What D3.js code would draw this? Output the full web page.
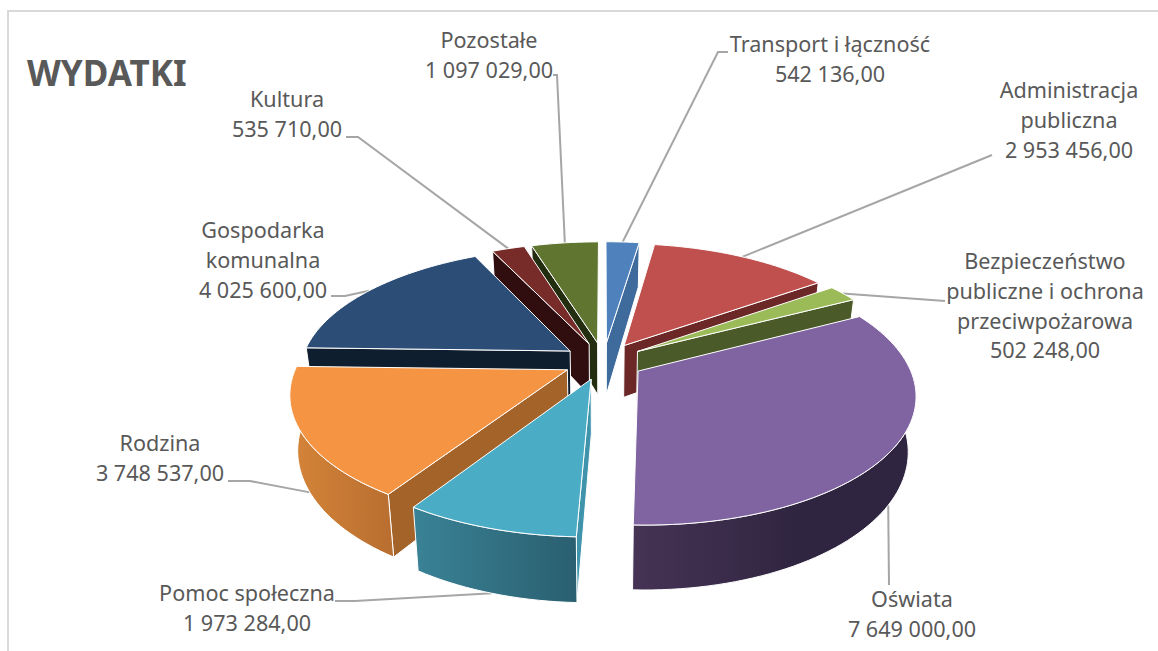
<!DOCTYPE html>
<html lang="pl">
<head>
<meta charset="UTF-8">
<title>Wydatki</title>
<script src="https://d3js.org/d3.v7.min.js"></script>
<style>
    body { margin: 0; background: #fff; }
    text { font-family: "Noto Sans", sans-serif; fill: #595959; }
</style>
</head>
<body>
<div id="chart"></div>
<script>
const categories = ["Transport i łączność", "Administracja publiczna", "Bezpieczeństwo publiczne i ochrona przeciwpożarowa", "Oświata", "Pomoc społeczna", "Rodzina", "Gospodarka komunalna", "Kultura", "Pozostałe"];
const values = [542136, 2953456, 502248, 7649000, 1973284, 3748537, 4025600, 535710, 1097029];
const valueLabels = ["542 136,00", "2 953 456,00", "502 248,00", "7 649 000,00", "1 973 284,00", "3 748 537,00", "4 025 600,00", "535 710,00", "1 097 029,00"];

// podzial etykiet na linie
const labelLines = [["Transport i łączność"], ["Administracja", "publiczna"], ["Bezpieczeństwo", "publiczne i ochrona", "przeciwpożarowa"], ["Oświata"], ["Pomoc społeczna"], ["Rodzina"], ["Gospodarka", "komunalna"], ["Kultura"], ["Pozostałe"]];

// kolory: gora, sciana zewnetrzna (jasna, ciemna), sciana boczna
const topColors = ["#4f81bd", "#c0504d", "#9bbb59", "#8064a2", "#4bacc6", "#f59544", "#2c4d75", "#772c2a", "#5f7530"];
const rimLight = ["#3f6a9c", "#6b2826", "#4a5a29", "#463355", "#3a8296", "#d58539", "#0f1e2e", "#300e10", "#232d10"];
const rimDark = ["#3f6a9c", "#6b2826", "#4a5a29", "#2f2540", "#2a5f70", "#b86e30", "#0f1e2e", "#300e10", "#232d10"];
const sideColors = ["#3f6a9c", "#6b2826", "#4a5a29", "#3b2d4c", "#3f94ac", "#a46429", "#0f1e2e", "#300e10", "#232d10"];

// polozenie etykiet: srodek tekstu, y pierwszej linii, lamanie linii wiodacej
const labelPos = [
    { x: 830, y: 52, elbow: [718, 52], end: [728, 52], rim: 0 },
    { x: 1069, y: 98, elbow: [992, 155], end: [992, 155], rim: 0 },
    { x: 1045, y: 269, elbow: [945, 301], end: [945, 301], rim: 0 },
    { x: 912, y: 607, elbow: [889, 585], end: [889, 585], rim: 1 },
    { x: 247, y: 601, elbow: [355, 601], end: [335, 601], rim: 1 },
    { x: 160, y: 451, elbow: [250, 481], end: [228, 481], rim: 1 },
    { x: 263, y: 238, elbow: [345, 296], end: [331, 296], rim: 0 },
    { x: 287, y: 107, elbow: [358, 137], end: [346, 137], rim: 0 },
    { x: 489, y: 48, elbow: [557, 75], end: [553, 75], rim: 0 }
];

const width = 1158, height = 651;
const cx = 603.5, cy = 361;    // srodek kola na ekranie
const scaleX = 269, scaleY = 124, depth = 53;
const persp = 0.17, explode = 0.15;
const shrink = 0.025;          // dolna podstawa lekko mniejsza

const svg = d3.select("#chart").append("svg")
    .attr("width", width).attr("height", height)
    .style("display", "block");
const defs = svg.append("defs");

// ramka wykresu
svg.append("path")
    .attr("d", d3.line()([[width, 11], [8, 11], [8, height]]))
    .attr("fill", "none").attr("stroke", "#d9d9d9").attr("stroke-width", 2);

const slices = d3.pie().sort(null).value(d => d)(values);

// rzut z podloza (u,v) i wysokosc z na ekran, z perspektywa
function project(u, v, z) {
    const w = 1 - persp * v;
    return [cx + scaleX * u / w * (1 - shrink * z), cy + (scaleY * v + depth * z) / w];
}
function offset(s) {
    const mid = (s.startAngle + s.endAngle) / 2;
    return [explode * Math.sin(mid), -explode * Math.cos(mid)];
}
function rimPoint(s, a, z) {
    const o = offset(s);
    return project(o[0] + Math.sin(a), o[1] - Math.cos(a), z);
}
function apex(s, z) {
    const o = offset(s);
    return project(o[0], o[1], z);
}
function arcAngles(s) {
    const n = Math.max(4, Math.ceil((s.endAngle - s.startAngle) / 0.03));
    return d3.range(n + 1).map(i => s.startAngle + (s.endAngle - s.startAngle) * i / n);
}
const line = d3.line();

// linie wiodace pod kolem
slices.forEach((s, i) => {
    const mid = (s.startAngle + s.endAngle) / 2;
    const p = labelPos[i];
    svg.append("path")
        .attr("d", line([p.end, p.elbow, rimPoint(s, mid, p.rim)]))
        .attr("fill", "none").attr("stroke", "#a6a6a6").attr("stroke-width", 2);
});

// malowanie od tylu do przodu
const order = slices.map((s, i) => ({ s, i }))
    .sort((a, b) => offset(a.s)[1] - offset(b.s)[1]);

order.forEach(({ s, i }) => {
    const g = svg.append("g");
    const angles = arcAngles(s);

    const wall = (pts, fill) => g.append("path")
        .attr("d", line(pts) + "Z")
        .attr("fill", fill).attr("stroke", "#fff").attr("stroke-width", 1)
        .attr("stroke-linejoin", "round");

    // sciany boczne, tylko te zwrocone do widza
    if (Math.sin(s.startAngle) < 0) {
        wall([apex(s, 0), rimPoint(s, s.startAngle, 0), rimPoint(s, s.startAngle, 1), apex(s, 1)], sideColors[i]);
    }
    if (Math.sin(s.endAngle) > 0) {
        wall([apex(s, 0), rimPoint(s, s.endAngle, 0), rimPoint(s, s.endAngle, 1), apex(s, 1)], sideColors[i]);
    }

    // sciana zewnetrzna, tylko przednia czesc luku
    const front = angles.filter(a => Math.cos(a) < 0.05);
    if (front.length > 1) {
        const pts = front.map(a => rimPoint(s, a, 0)).concat(front.slice().reverse().map(a => rimPoint(s, a, 1)));
        const xr = d3.extent(pts, p => p[0]);
        const gid = "rim" + i;
        const grad = defs.append("linearGradient").attr("id", gid)
            .attr("gradientUnits", "userSpaceOnUse")
            .attr("x1", xr[0]).attr("x2", xr[1]).attr("y1", 0).attr("y2", 0);
        grad.append("stop").attr("offset", "0").attr("stop-color", rimLight[i]);
        grad.append("stop").attr("offset", i === 3 ? "0.6" : "1").attr("stop-color", rimDark[i]);
        wall(pts, `url(#${gid})`);
    }

    // gora
    wall([apex(s, 0)].concat(angles.map(a => rimPoint(s, a, 0))), topColors[i]);
});

// tytul
svg.append("text").attr("x", 27).attr("y", 86)
    .attr("font-size", 35).attr("font-weight", 700).text("WYDATKI");

// etykiety
slices.forEach((s, i) => {
    const t = svg.append("text").attr("text-anchor", "middle").attr("font-size", 21.6);
    labelLines[i].concat(valueLabels[i]).forEach((l, j) => {
        t.append("tspan").attr("x", labelPos[i].x)
            .attr("y", labelPos[i].y + j * 29.8).text(l);
    });
});
</script>
</body>
</html>
